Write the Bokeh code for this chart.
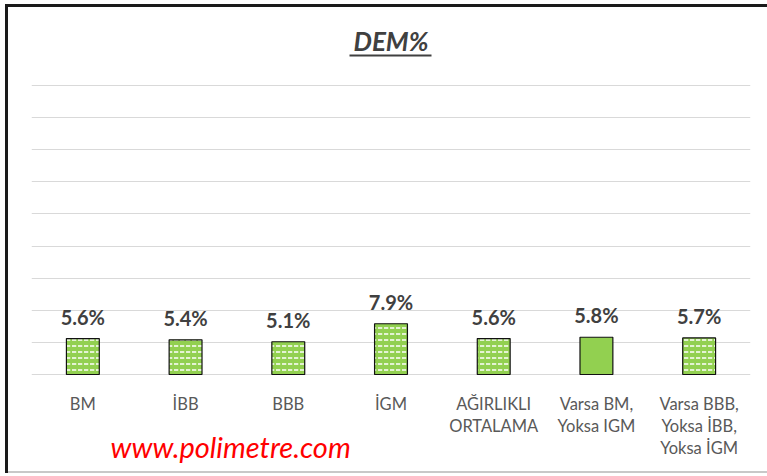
from bokeh.plotting import figure
from bokeh.models import (ColumnDataSource, FactorRange, Range1d, FixedTicker,
                          LabelSet, BoxAnnotation)
from bokeh.core.properties import value
from bokeh.embed import file_html
from bokeh.resources import INLINE

# ---- data ----
categories = ["BM", "İBB", "BBB", "İGM", "AĞIRLIKLI\nORTALAMA",
              "Varsa BM,\nYoksa IGM", "Varsa BBB,\nYoksa İBB,\nYoksa İGM"]
values = [5.6, 5.4, 5.1, 7.9, 5.6, 5.8, 5.7]
value_labels = ["5.6%", "5.4%", "5.1%", "7.9%", "5.6%", "5.8%", "5.7%"]
patterns = ["horizontal_dash", "horizontal_dash", "horizontal_dash", "horizontal_dash",
            "horizontal_dash", "blank", "horizontal_dash"]
grid_ticks = [0, 5, 10, 15, 20, 25, 30, 35, 40, 45]
title_text = "DEM%"
watermark = "www.polimetre.com"

# ---- layout (pixels) ----
W, H = 767, 476
FRAME_L, FRAME_R = 31, 750
BASE_Y, TOP_GRID_Y = 374, 85
ppu = (BASE_Y - TOP_GRID_Y) / 45.0          # pixels per percentage unit
y_start = -(H - BASE_Y) / ppu
y_end = BASE_Y / ppu
cat_w = (FRAME_R - FRAME_L) / len(categories)

src = ColumnDataSource(dict(x=categories, y=values, label=value_labels, pat=patterns))

p = figure(x_range=FactorRange(*categories), y_range=Range1d(y_start, y_end),
           width=W, height=H, output_backend="svg", toolbar_location=None,
           min_border_left=FRAME_L, min_border_right=W - FRAME_R,
           min_border_top=0, min_border_bottom=0)
p.styles = {"box-shadow": ("inset 5px 0 0 #fff, inset 0 4px 0 #fff, inset 0 -3px 0 #fff, "
                           "inset 8px 0 0 #1a1a1a, inset 0 7px 0 #1a1a1a, "
                           "inset 0 -5px 0 #c8c8c8")}
p.background_fill_alpha = 0
p.border_fill_alpha = 0
p.outline_line_color = None
p.xaxis.visible = False
p.yaxis.visible = False

p.xgrid.grid_line_color = None
p.ygrid.ticker = FixedTicker(ticks=grid_ticks)
p.ygrid.grid_line_color = "#d9d9d9"
p.ygrid.grid_line_width = 1

p.vbar(x="x", top="y", width=0.32, source=src, fill_color="#92D050",
       line_color="#111111", line_width=1.2, hatch_pattern="pat",
       hatch_color="white", hatch_scale=6, hatch_weight=1.5)

# category labels under the bars
p.text(x="x", y=-19 / ppu, text="x", source=src, text_align="center",
       text_baseline="top", text_font=value("Lato"), text_font_size=value("16.5px"),
       text_color="#595959", text_line_height=1.1)

labels = LabelSet(x="x", y="y", text="label", source=src, y_offset=14,
                  text_align="center", text_baseline="alphabetic",
                  text_font=value("Lato"), text_font_size=value("20px"),
                  text_font_style="bold", text_color="#404040")
p.add_layout(labels)

# title with underline
p.text(x=[3.5], y=[(BASE_Y - 24) / ppu], text=[title_text], text_align="center",
       text_baseline="top", text_font=value("Lato"),
       text_font_size=value("26px"), text_font_style="bold italic",
       text_color="#404040")
p.add_layout(BoxAnnotation(left=(349 - FRAME_L) / cat_w, right=(431 - FRAME_L) / cat_w,
                           bottom=(BASE_Y - 56) / ppu, top=(BASE_Y - 54) / ppu,
                           fill_color="#404040", fill_alpha=1, line_color=None))

# watermark
p.text(x=[(110 - FRAME_L) / cat_w], y=[(BASE_Y - 428) / ppu], text=[watermark],
       text_align="left", text_baseline="top", text_font=value("Lato"),
       text_font_size=value("29px"), text_font_style="italic",
       text_color="#ff0000")

open("out.html", "w").write(file_html(p, INLINE))
